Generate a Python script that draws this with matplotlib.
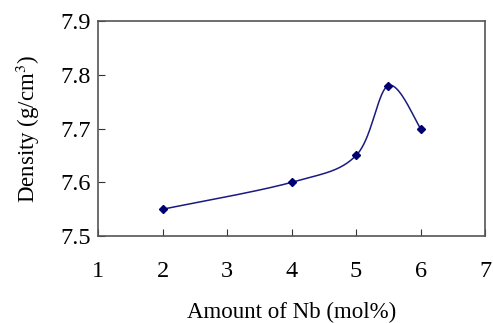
import numpy as np
import matplotlib
matplotlib.use('Agg')
import matplotlib.pyplot as plt

# Nb content (mol%) vs density (g/cm^3)
nb_amount = [2, 4, 5, 5.5, 6]
density = [7.55, 7.60, 7.65, 7.78, 7.70]

x_ticks = [1, 2, 3, 4, 5, 6, 7]
y_ticks = [7.5, 7.6, 7.7, 7.8, 7.9]


def smooth(xs, ys, n=40):
    # Excel-style smoothed line: cubic bezier with catmull-rom control points
    xs = np.asarray(xs, float)
    ys = np.asarray(ys, float)
    px = np.concatenate([[xs[0]], xs, [xs[-1]]])
    py = np.concatenate([[ys[0]], ys, [ys[-1]]])
    outx, outy = [], []
    t = np.linspace(0, 1, n)
    for i in range(1, len(px) - 2):
        p0 = np.array([px[i], py[i]])
        p3 = np.array([px[i + 1], py[i + 1]])
        p1 = p0 + (np.array([px[i + 1], py[i + 1]]) - np.array([px[i - 1], py[i - 1]])) / 6
        p2 = p3 - (np.array([px[i + 2], py[i + 2]]) - np.array([px[i], py[i]])) / 6
        b = ((1 - t) ** 3)[:, None] * p0 + (3 * (1 - t) ** 2 * t)[:, None] * p1 \
            + (3 * (1 - t) * t ** 2)[:, None] * p2 + (t ** 3)[:, None] * p3
        outx.extend(b[:, 0])
        outy.extend(b[:, 1])
    return outx, outy


plt.rcParams['font.family'] = ['Liberation Serif', 'DejaVu Serif']
plt.rcParams['mathtext.fontset'] = 'stix'

fig = plt.figure(figsize=(4.93, 3.23), dpi=100)
ax = fig.add_axes([0.199, 0.269, 0.785, 0.666])

sx, sy = smooth(nb_amount, density)
ax.plot(sx, sy, color='#1a1a80', lw=1.1)
ax.plot(nb_amount, density, 'D', color='#000070', ms=4.5, lw=0)

ax.set_xlim(1, 7)
ax.set_ylim(7.5, 7.9)
ax.set_xticks(x_ticks)
ax.set_yticks(y_ticks)
ax.set_yticklabels(['%.1f' % v for v in y_ticks])

ax.tick_params(axis='both', direction='in', length=5, width=0.8, colors='#333333',
               labelcolor='black', labelsize=17.5)
ax.tick_params(axis='x', pad=18)
ax.tick_params(axis='y', pad=5)
for s in ax.spines.values():
    s.set_color('#555555')
    s.set_linewidth(1.2)

ax.set_xlabel('Amount of Nb (mol%)', fontsize=16.5, labelpad=14)
ax.set_ylabel('Density (g/cm$^3$)', fontsize=16.5, labelpad=13)

fig.savefig('out.png', dpi=100)
